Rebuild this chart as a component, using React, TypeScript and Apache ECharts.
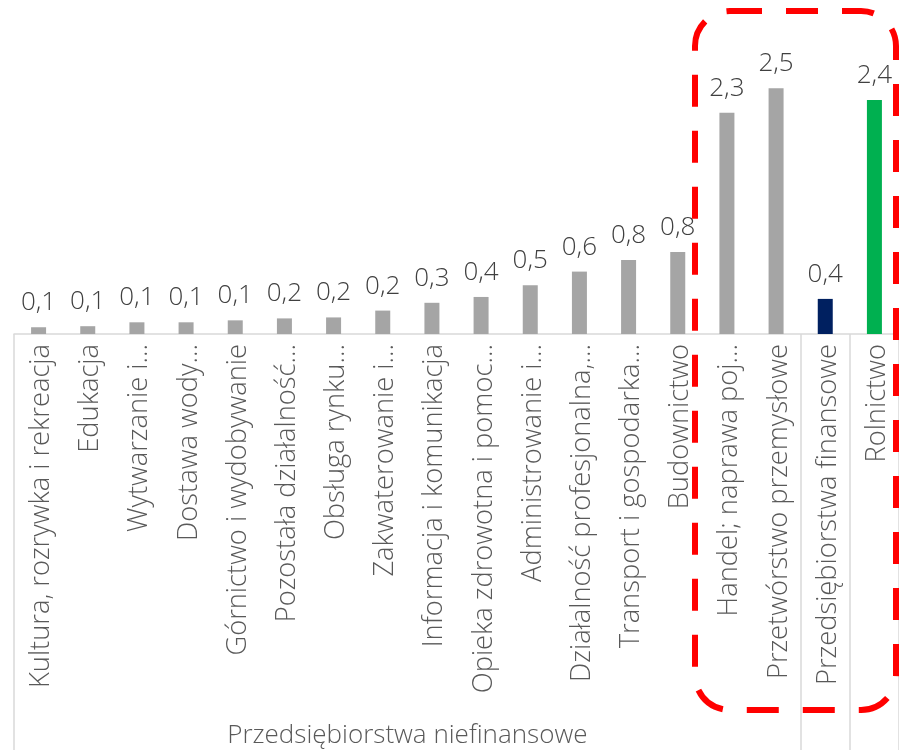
import React, { useEffect, useRef } from "react";
import * as echarts from "echarts";

const categories = [
  "Kultura, rozrywka i rekreacja",
  "Edukacja",
  "Wytwarzanie i…",
  "Dostawa wody…",
  "Górnictwo i wydobywanie",
  "Pozostała działalność…",
  "Obsługa rynku…",
  "Zakwaterowanie i…",
  "Informacja i komunikacja",
  "Opieka zdrowotna i pomoc…",
  "Administrowanie i…",
  "Działalność profesjonalna,…",
  "Transport i gospodarka…",
  "Budownictwo",
  "Handel; naprawa poj…",
  "Przetwórstwo przemysłowe",
  "Przedsiębiorstwa finansowe",
  "Rolnictwo",
];

const values = [
  0.07, 0.08, 0.12, 0.12, 0.14, 0.16, 0.17, 0.24, 0.32, 0.38, 0.5, 0.64, 0.76,
  0.84, 2.27, 2.52, 0.36, 2.4,
];

const barColors = [
  "#a5a5a5", "#a5a5a5", "#a5a5a5", "#a5a5a5", "#a5a5a5", "#a5a5a5",
  "#a5a5a5", "#a5a5a5", "#a5a5a5", "#a5a5a5", "#a5a5a5", "#a5a5a5",
  "#a5a5a5", "#a5a5a5", "#a5a5a5", "#a5a5a5", "#002060", "#00b050",
];

const groupLabel = "Przedsiębiorstwa niefinansowe";
const groupSize = 16;

export default function App() {
  const ref = useRef<HTMLDivElement>(null);
  useEffect(() => {
    if (!ref.current) return;
    const chart = echarts.init(ref.current, undefined, { renderer: "svg" });
    const font = "'Open Sans', 'Noto Sans', sans-serif";
    chart.setOption({
      animation: false,
      grid: { left: 14, top: 41.5, width: 887, height: 292.5, containLabel: false },
      xAxis: {
        type: "category",
        data: categories,
        axisLine: { show: true, lineStyle: { color: "#d9d9d9", width: 1.5 } },
        axisTick: {
          show: true,
          alignWithLabel: false,
          interval: (i: number) => i === 0 || i === groupSize || i === groupSize + 1,
          length: 420,
          lineStyle: { color: "#d9d9d9", width: 1.5 },
        },
        axisLabel: {
          interval: 0,
          rotate: 90,
          margin: 10,
          fontSize: 27.3,
          fontWeight: 300,
          color: "#595959",
          fontFamily: font,
        },
      },
      yAxis: {
        type: "value",
        min: 0,
        max: 3,
        show: false,
        splitLine: { show: false },
      },
      series: [
        {
          type: "bar",
          barWidth: 15,
          data: values.map((v, i) => ({ value: v, itemStyle: { color: barColors[i] } })),
          label: {
            show: true,
            position: "top",
            distance: 14,
            fontSize: 26,
            fontWeight: 300,
            color: "#404040",
            fontFamily: font,
            formatter: (p: any) => Number(p.value).toFixed(1).replace(".", ","),
          },
        },
      ],
    });
    const c0 = chart.convertToPixel({ xAxisIndex: 0 }, 0) as number;
    const c1 = chart.convertToPixel({ xAxisIndex: 0 }, 1) as number;
    const band = c1 - c0;
    const groupCenter = c0 - band / 2 + (band * groupSize) / 2;
    chart.setOption({
      graphic: [
        {
          type: "text",
          x: groupCenter,
          y: 733,
          style: {
            text: groupLabel,
            fontSize: 26,
            fontWeight: 300,
            fill: "#595959",
            fontFamily: font,
            align: "center",
            verticalAlign: "middle",
          },
        },
        {
          type: "rect",
          shape: { x: 695, y: 11, width: 201, height: 699, r: 35 },
          style: {
            fill: "none",
            stroke: "#ff0000",
            lineWidth: 6,
            lineDash: [32, 24],
          },
          z: 100,
        },
      ],
    });
    return () => chart.dispose();
  }, []);
  return (
    <div
      ref={ref}
      style={{ position: "fixed", left: 0, top: 0, width: 899, height: 750 }}
    />
  );
}
